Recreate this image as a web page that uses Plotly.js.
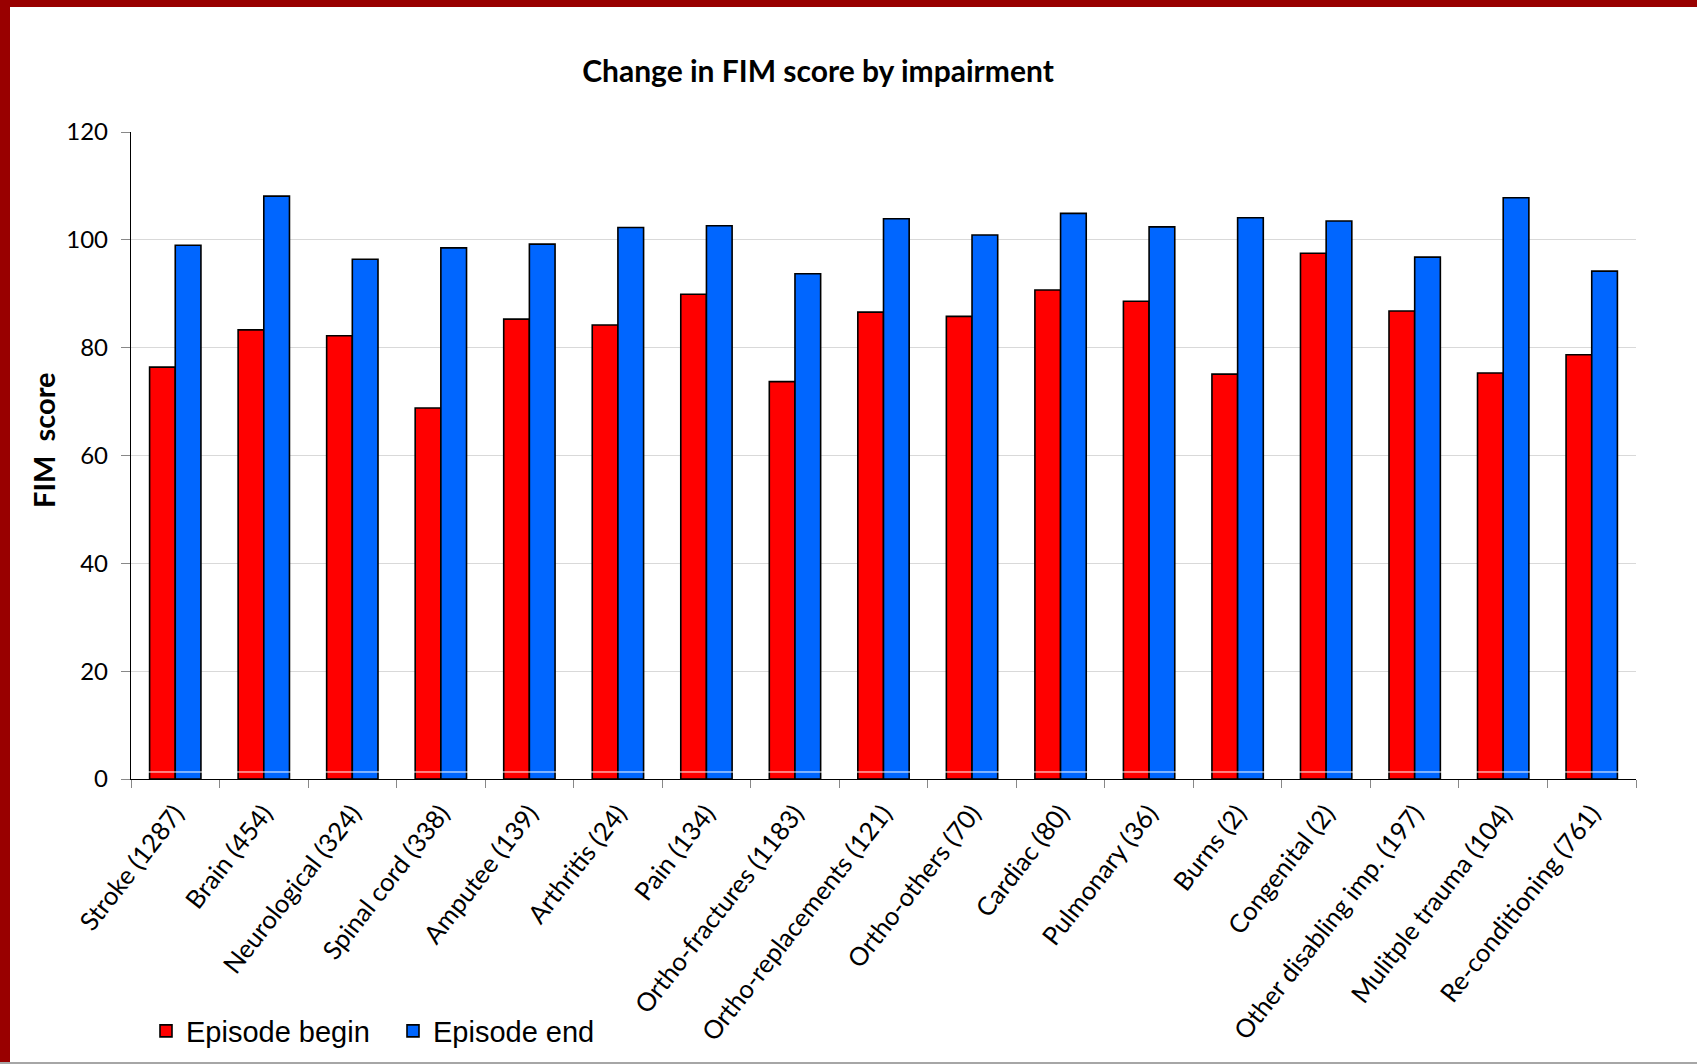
<!DOCTYPE html>
<html>
<head>
<meta charset="utf-8">
<script src="https://cdn.plot.ly/plotly-3.0.1.min.js"></script>
<style>
  html, body { margin: 0; padding: 0; background: #ffffff; }
  #wrap { position: relative; width: 1697px; height: 1064px; overflow: hidden; }
  #chart { position: absolute; left: 0; top: 0; width: 1697px; height: 1064px; }
  .bl { position: absolute; left: 0; top: 0; width: 10px; height: 1064px; background: #990000; }
  .bt { position: absolute; left: 0; top: 0; width: 1697px; height: 7px; background: #990000; }
  .bb { position: absolute; left: 0; top: 1062px; width: 1697px; height: 2px; background: #a6a6a6; }
</style>
</head>
<body>
<div id="wrap">
  <div id="chart"></div>
  <div class="bl"></div>
  <div class="bt"></div>
  <div class="bb"></div>
</div>
<script>
const categories = [
  "Stroke (1287)", "Brain (454)", "Neurological (324)", "Spinal cord (338)",
  "Amputee (139)", "Arthritis (24)", "Pain (134)", "Ortho-fractures (1183)",
  "Ortho-replacements (121)", "Ortho-others (70)", "Cardiac (80)", "Pulmonary (36)",
  "Burns (2)", "Congenital (2)", "Other disabling imp. (197)", "Mulitple trauma (104)",
  "Re-conditioning (761)"
];
const episodeBegin = [76.4, 83.3, 82.2, 68.8, 85.3, 84.2, 89.9, 73.7, 86.6, 85.8, 90.7, 88.6, 75.1, 97.5, 86.8, 75.3, 78.7];
const episodeEnd   = [99.0, 108.1, 96.4, 98.5, 99.2, 102.3, 102.6, 93.7, 103.9, 100.9, 104.9, 102.4, 104.1, 103.5, 96.8, 107.8, 94.2];
const yTicks = [0, 20, 40, 60, 80, 100, 120];

const W = 1697, H = 1064;
const M = { l: 131, r: 61, t: 132, b: 285 };
const plotW = W - M.l - M.r;
const plotH = H - M.t - M.b;
const px2paperX = p => (p - M.l) / plotW;
const px2paperY = p => (H - M.b - p) / plotH;
const FONT = 'Lato, "Open Sans", sans-serif';

const traces = [
  {
    type: 'bar', name: 'Episode begin', x: categories, y: episodeBegin,
    marker: { color: '#FF0000', line: { color: '#000000', width: 1.6 } },
    hoverinfo: 'x+y'
  },
  {
    type: 'bar', name: 'Episode end', x: categories, y: episodeEnd,
    marker: { color: '#0066FF', line: { color: '#000000', width: 1.6 } },
    hoverinfo: 'x+y'
  }
];

const layout = {
  width: W, height: H,
  margin: M,
  paper_bgcolor: '#ffffff',
  plot_bgcolor: '#ffffff',
  barmode: 'group',
  bargap: 0.42,
  bargroupgap: 0,
  font: { family: FONT, color: '#000000' },
  title: {
    text: '<b>Change in FIM score by impairment</b>',
    font: { family: FONT, size: 30, color: '#000000' },
    xref: 'paper', x: px2paperX(818), xanchor: 'center',
    yref: 'container', y: 1 - 71 / H, yanchor: 'middle'
  },
  xaxis: {
    type: 'category',
    tickangle: -52,
    tickfont: { family: FONT, size: 25.5, color: '#000000' },
    ticklabelstandoff: 8,
    showline: true, linecolor: '#000000', linewidth: 1.2,
    ticks: 'outside', tickson: 'boundaries', ticklen: 8, tickcolor: '#888888', tickwidth: 1,
    showgrid: false, zeroline: false,
    automargin: false
  },
  yaxis: {
    range: [0, 120],
    tickvals: yTicks,
    ticktext: yTicks.map(String),
    tickfont: { family: FONT, size: 24, color: '#000000' },
    showline: true, linecolor: '#000000', linewidth: 1.2,
    ticks: 'outside', ticklen: 9, tickcolor: '#888888', tickwidth: 1,
    ticklabelstandoff: 8,
    showgrid: true, gridcolor: '#d9d9d9', gridwidth: 1.2,
    zeroline: false,
    automargin: false
  },
  annotations: [
    {
      text: '<b>FIM  score</b>',
      font: { family: FONT, size: 29, color: '#000000' },
      textangle: -90,
      xref: 'paper', x: px2paperX(43), xanchor: 'center',
      yref: 'paper', y: px2paperY(440), yanchor: 'middle',
      showarrow: false
    }
  ],
  legend: {
    orientation: 'h',
    xref: 'container', x: 146 / W, xanchor: 'left',
    yref: 'container', y: 1 - 1031 / H, yanchor: 'middle',
    font: { family: '"Liberation Sans", Arial, sans-serif', size: 29, color: '#000000' },
    entrywidth: 202,
    bgcolor: 'rgba(0,0,0,0)',
    itemclick: false
  },
  shapes: [
    {
      type: 'line', xref: 'paper', x0: 0, x1: 1, yref: 'y', y0: 1.3, y1: 1.3,
      line: { color: '#ffffff', width: 1 }, layer: 'above'
    }
  ],
  showlegend: true
};

Plotly.newPlot('chart', traces, layout, { displayModeBar: false, staticPlot: true });
</script>
</body>
</html>
